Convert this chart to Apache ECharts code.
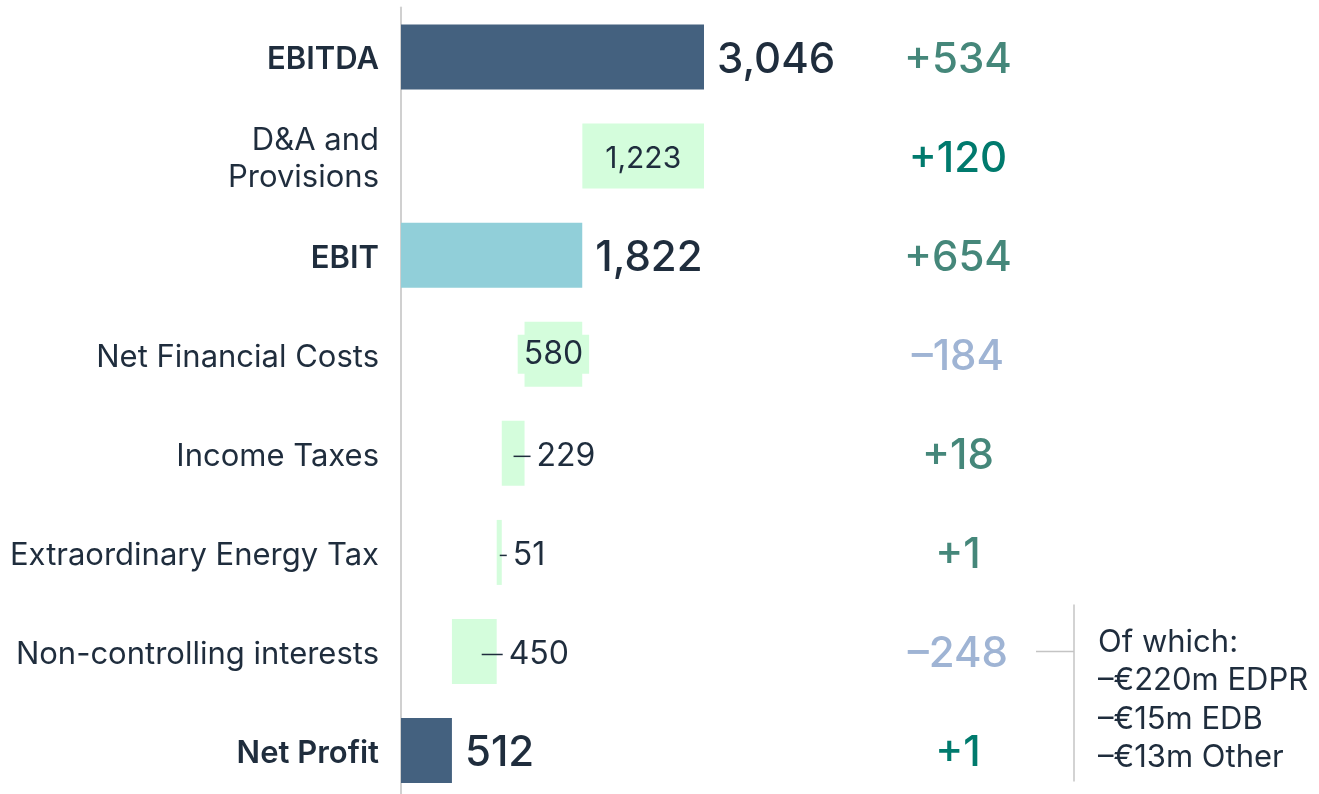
<!DOCTYPE html>
<html>
<head>
<meta charset="utf-8">
<script src="https://cdn.jsdelivr.net/npm/echarts@6/dist/echarts.min.js"></script>
<style>
html,body{margin:0;padding:0;background:#fff;}
#main{width:1319px;height:794px;}
</style>
</head>
<body>
<div id="main"></div>
<script>
// ---- data ----
const categories = ['EBITDA', 'D&A and\nProvisions', 'EBIT', 'Net Financial Costs', 'Income Taxes', 'Extraordinary Energy Tax', 'Non-controlling interests', 'Net Profit'];
const values = [3046, 1223, 1822, 580, 229, 51, 450, 512];
const kinds = ['total', 'decrease', 'total', 'decrease', 'decrease', 'decrease', 'decrease', 'total'];
const variances = ['+534', '+120', '+654', '–184', '+18', '+1', '–248', '+1'];
const noteLines = ['Of which:', '–€220m EDPR', '–€15m EDB', '–€13m Other'];

// ---- styles ----
const DARK = '#1f2d3d';
const FONT = 'Inter';
const barColors = { total: '#44617f', decrease: '#d4fddc' };
const ebitColor = '#91cfd9';
const boldCats = [0, 2, 7];
const varStyle = ['a', 'b', 'a', 'n', 'a', 'a', 'n', 'b'];
// label layouts for the decrease bars
const labelMode = ['total', 'inside', 'total', 'box', 'dash', 'dash', 'dash', 'total'];
const dashSpec = { 4: { len: 17, back: 11 }, 5: { len: 7, back: 2 }, 6: { len: 21, back: 15 } };
const DY = 3; // small downward nudge for text baseline

// waterfall build
const bases = [];
let running = 0;
values.forEach((v, i) => {
  if (kinds[i] === 'total') { bases.push(0); running = v; }
  else { running -= v; bases.push(running); }
});

const fmt = v => v.toLocaleString('en-US');

const barData = values.map((v, i) => {
  const item = { value: v, itemStyle: { color: i === 2 ? ebitColor : barColors[kinds[i]] } };
  const mode = labelMode[i];
  if (mode === 'total') {
    item.label = { show: true, position: 'right', distance: 13, offset: [0, DY], fontSize: 42, fontWeight: 500, color: DARK, fontFamily: FONT, formatter: fmt(v) };
  } else if (mode === 'inside') {
    item.label = { show: true, position: 'inside', offset: [0, DY], fontSize: 30, color: DARK, fontFamily: FONT, formatter: fmt(v) };
  } else if (mode === 'box') {
    item.label = { show: true, position: 'inside', fontSize: 32, color: DARK, fontFamily: FONT, backgroundColor: barColors.decrease, padding: [6, 6, 1, 6], lineHeight: 32, formatter: fmt(v) };
  } else {
    const d = dashSpec[i];
    item.label = {
      show: true, position: 'right', distance: 0, offset: [-d.back, DY],
      formatter: '{l| }{v|' + fmt(v) + '}',
      rich: {
        l: { width: d.len, height: 1.5, backgroundColor: DARK, fontSize: 2, lineHeight: 2 },
        v: { fontSize: 32, color: DARK, fontFamily: FONT, padding: [0, 0, 0, 6] }
      }
    };
  }
  return item;
});

const chart = echarts.init(document.getElementById('main'));
chart.setOption({
  animation: false,
  backgroundColor: '#fff',
  grid: { left: 401, width: 397.9, top: 7.5, height: 792.6, containLabel: false, outerBoundsMode: 'none' },
  xAxis: { type: 'value', min: 0, max: 4000, show: false },
  yAxis: [
    {
      type: 'category', inverse: true, data: categories,
      axisLine: { show: true, lineStyle: { color: '#d0d0d0', width: 2 } },
      axisTick: { show: false },
      axisLabel: {
        margin: 22, fontSize: 31, lineHeight: 37, color: DARK, fontFamily: FONT, padding: [2 * DY, 0, 0, 0],
        formatter: (v, i) => boldCats.includes(i) ? '{b|' + v + '}' : v,
        rich: { b: { fontSize: 31, fontWeight: 600, color: DARK, fontFamily: FONT } }
      }
    },
    {
      type: 'category', inverse: true, data: variances, position: 'right',
      axisLine: { show: false }, axisTick: { show: false },
      axisLabel: {
        margin: 159, align: 'center', padding: [2 * DY, 0, 0, 0],
        formatter: (v, i) => '{' + varStyle[i] + '|' + v + '}',
        rich: {
          a: { fontSize: 42, fontWeight: 500, color: '#45877a', fontFamily: FONT },
          b: { fontSize: 42, fontWeight: 500, color: '#007a6d', fontFamily: FONT },
          n: { fontSize: 42, fontWeight: 500, color: '#9fb4d4', fontFamily: FONT }
        }
      }
    }
  ],
  series: [
    { type: 'bar', stack: 'w', silent: true, data: bases, itemStyle: { color: 'rgba(0,0,0,0)' }, barWidth: 65 },
    { type: 'bar', stack: 'w', data: barData, barWidth: 65 }
  ]
});

// annotation anchored to the Non-controlling interests row
const rowY = chart.convertToPixel({ yAxisIndex: 0 }, categories[6]);
const g = [
  { type: 'line', shape: { x1: 1074, y1: rowY - 47, x2: 1074, y2: rowY + 130 }, style: { stroke: '#c4c4c4', lineWidth: 1.5 } },
  { type: 'line', shape: { x1: 1036, y1: rowY, x2: 1074, y2: rowY }, style: { stroke: '#c4c4c4', lineWidth: 1.5 } }
];
noteLines.forEach((t, k) => {
  g.push({ type: 'text', x: 1098, y: rowY - 9 + k * 38.5, style: { text: t, fontSize: 31, fontFamily: FONT, fill: DARK, verticalAlign: 'middle', align: 'left' } });
});
chart.setOption({ graphic: g });
</script>
</body>
</html>
